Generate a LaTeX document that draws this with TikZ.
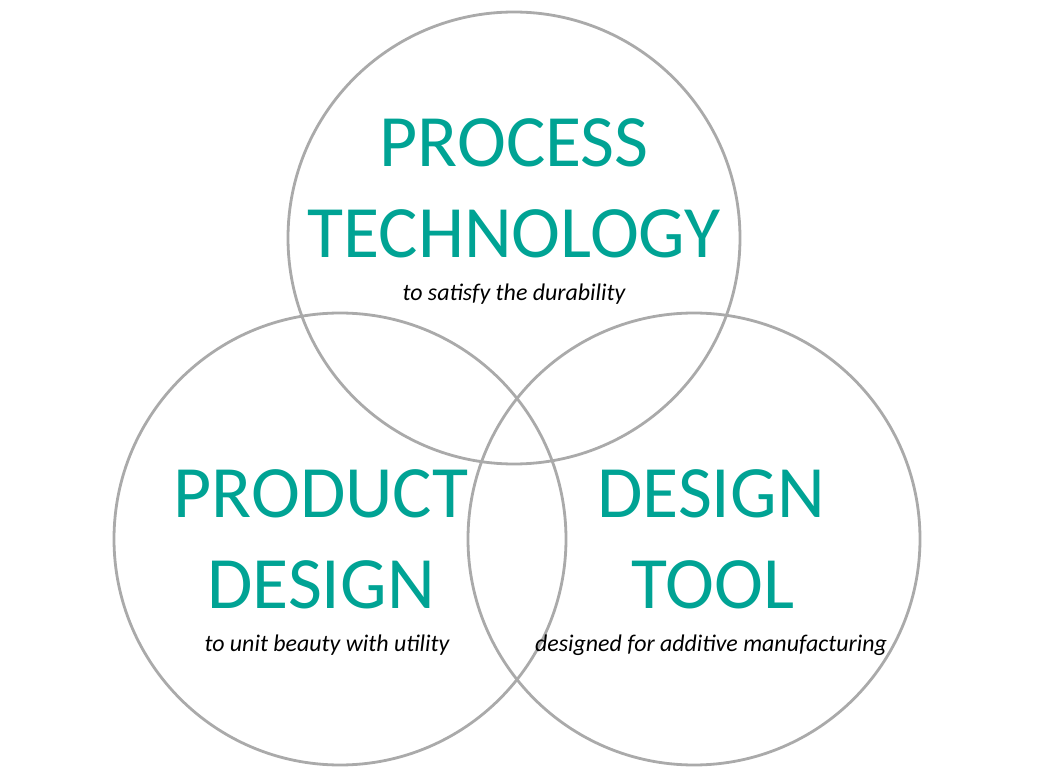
\documentclass[tikz,border=0pt]{standalone}
\usepackage{fontspec}
\setmainfont{Carlito}
\usepackage{tikz}
\usetikzlibrary{positioning}
\definecolor{venngrey}{RGB}{170,170,170}
\definecolor{vennteal}{RGB}{0,163,148}
\tikzset{
  venn/.style={circle, draw=venngrey, line width=2pt, minimum size=452*0.025cm, inner sep=0pt},
  title/.style={anchor=base, text=vennteal, font=\fontsize{52.5}{63}\selectfont},
  sub/.style={anchor=base, font=\itshape\fontsize{17}{20}\selectfont}
}
\begin{document}
\begin{tikzpicture}[x=0.025cm, y=-0.025cm]
          \useasboundingbox (0,0) rectangle (1040,780);

          \node[venn] (process) at (514, 238) {};
          \node[venn] (product) at (340, 539) {};
          \node[venn] (tool) at (694, 539) {};

          \node[title] (p1) at (514, 167) {PROCESS};
          \node[title] (p2) at (514, 258) {TECHNOLOGY};
          \node[sub] (p3) at (514, 301) {to satisfy the durability};

          \node[title] (d1) at (321, 518) {PRODUCT};
          \node[title] (d2) at (321, 608) {DESIGN};
          \node[sub] (d3) at (327, 651) {to unit beauty with utility};

          \node[title] (t1) at (711, 518) {DESIGN};
          \node[title] (t2) at (713, 608) {TOOL};
          \node[sub] (t3) at (711, 651) {designed for additive manufacturing};

        \end{tikzpicture}
\end{document}
